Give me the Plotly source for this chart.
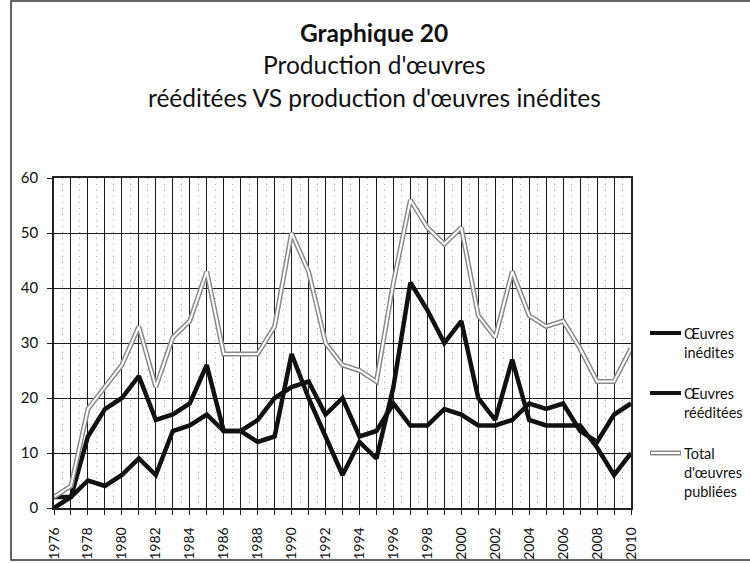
import plotly.graph_objects as go

years = list(range(1976, 2011))
inedites = [0, 2, 13, 18, 20, 24, 16, 17, 19, 26, 14, 14, 12, 13, 28, 20, 13, 6, 12, 9,
            22, 41, 36, 30, 34, 20, 16, 27, 16, 15, 15, 15, 11, 6, 10]
reeditees = [2, 2, 5, 4, 6, 9, 6, 14, 15, 17, 14, 14, 16, 20, 22, 23, 17, 20, 13, 14,
             19, 15, 15, 18, 17, 15, 15, 16, 19, 18, 19, 14, 12, 17, 19]
total = [2, 4, 18, 22, 26, 33, 22, 31, 34, 43, 28, 28, 28, 33, 50, 43, 30, 26, 25, 23,
         41, 56, 51, 48, 51, 35, 31, 43, 35, 33, 34, 29, 23, 23, 29]
tick_labels = [str(y) if y % 2 == 0 else "" for y in years]
title_lines = ["<b>Graphique 20</b>", "Production d'œuvres",
               "rééditées VS production d'œuvres inédites"]
legend_names = ["Œuvres<br>inédites", "Œuvres<br>rééditées", "Total<br>d'œuvres<br>publiées"]

W, H = 750, 563
L, R, T, B = 54, 119, 178, 55
PW, PH = W - L - R, H - T - B
FONT = "Lato, 'Open Sans', sans-serif"


def px(x):
    return (x - L) / PW


def py(y):
    return (H - B - y) / PH


fig = go.Figure()
fig.add_trace(go.Scatter(x=years, y=inedites, mode="lines", name="Œuvres inédites",
                         line=dict(color="#111111", width=4.5), showlegend=False))
fig.add_trace(go.Scatter(x=years, y=reeditees, mode="lines", name="Œuvres rééditées",
                         line=dict(color="#111111", width=4.5), showlegend=False))
fig.add_trace(go.Scatter(x=years, y=total, mode="lines", name="Total d'œuvres publiées",
                         line=dict(color="#8a8a8a", width=5), showlegend=False))
fig.add_trace(go.Scatter(x=years, y=total, mode="lines", name="Total d'œuvres publiées",
                         line=dict(color="#ffffff", width=2), showlegend=False,
                         hoverinfo="skip"))

annotations = []
for text, yc in zip(title_lines, [33, 64, 97]):
    annotations.append(dict(text=text, x=px(374), y=py(yc), xref="paper", yref="paper",
                            xanchor="center", yanchor="middle", showarrow=False,
                            font=dict(family=FONT, size=24.5, color="#111111")))

shapes = []
leg_y = [333, 393, 453]
for i, (name, yc) in enumerate(zip(legend_names, leg_y)):
    if i < 2:
        shapes.append(dict(type="line", xref="paper", yref="paper", x0=px(650), x1=px(681),
                           y0=py(yc), y1=py(yc), line=dict(color="#111111", width=4)))
    else:
        shapes.append(dict(type="line", xref="paper", yref="paper", x0=px(650), x1=px(681),
                           y0=py(yc), y1=py(yc), line=dict(color="#8a8a8a", width=5)))
        shapes.append(dict(type="line", xref="paper", yref="paper", x0=px(651), x1=px(680),
                           y0=py(yc), y1=py(yc), line=dict(color="#ffffff", width=2)))
    annotations.append(dict(text=name, x=px(682), y=py(yc - 10), xref="paper", yref="paper",
                            xanchor="left", yanchor="top", align="left", showarrow=False,
                            font=dict(family=FONT, size=14.5, color="#111111")))

# outer chart border
shapes.append(dict(type="rect", xref="paper", yref="paper", x0=px(11), x1=px(760),
                   y0=py(560), y1=py(1), line=dict(color="#333333", width=1.5),
                   layer="below"))

fig.update_layout(
    width=W, height=H,
    margin=dict(l=L, r=R, t=T, b=B, pad=0),
    paper_bgcolor="white", plot_bgcolor="white",
    font=dict(family=FONT, size=15, color="#111111"),
    showlegend=False,
    annotations=annotations,
    shapes=shapes,
    xaxis=dict(range=[1976, 2010], tickvals=years, ticktext=tick_labels, tickangle=-90,
               showgrid=True, gridcolor="#1a1a1a", gridwidth=1.4,
               minor=dict(tickvals=[y + 0.5 for y in years[:-1]], showgrid=True,
                          gridcolor="#aaaaaa", griddash="1px,5px", gridwidth=1, ticks=""),
               ticks="outside", ticklen=5, tickcolor="#222222", ticklabelstandoff=7,
               showline=True, linecolor="#222222", linewidth=1.5, mirror=True,
               zeroline=False, automargin=False,
               tickfont=dict(family=FONT, size=14, color="#111111")),
    yaxis=dict(range=[0, 60], dtick=10, showgrid=True, gridcolor="#1a1a1a", gridwidth=1.4,
               ticks="outside", ticklen=5, tickcolor="#222222", ticklabelstandoff=6,
               showline=True, linecolor="#222222", linewidth=1.5, mirror=True,
               zeroline=False, automargin=False,
               tickfont=dict(family=FONT, size=15, color="#111111")),
)

fig.write_html("out.html")
